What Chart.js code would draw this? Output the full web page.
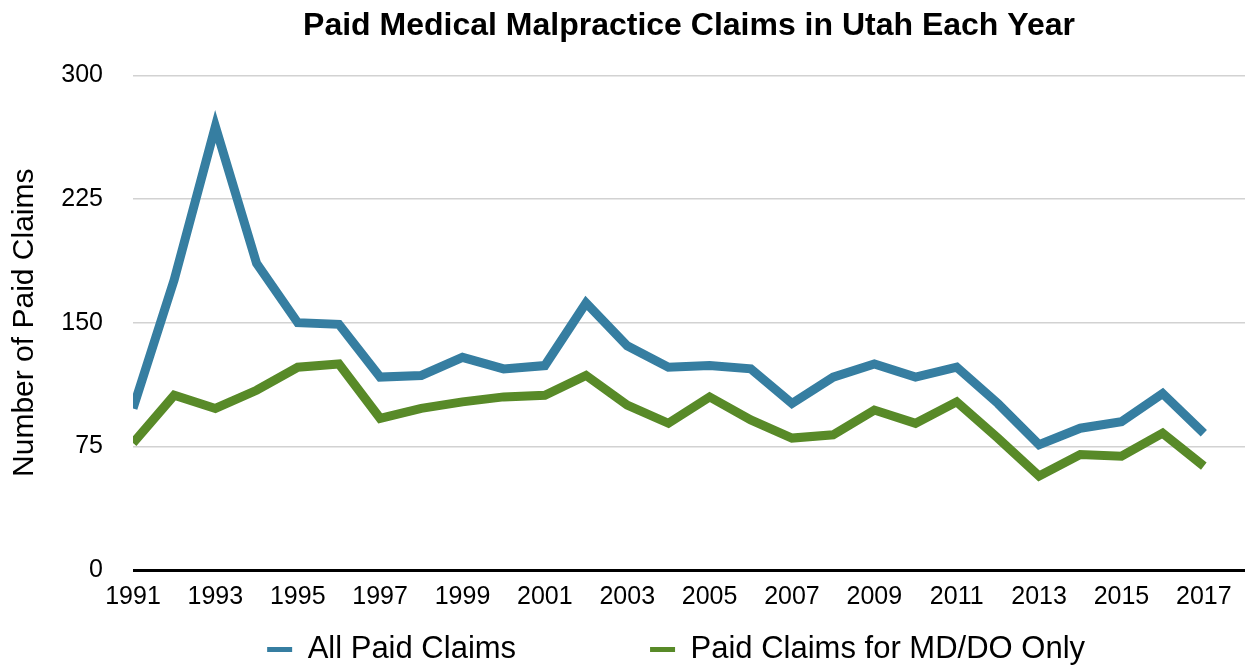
<!DOCTYPE html>
<html>
<head>
<meta charset="utf-8">
<script src="https://cdn.jsdelivr.net/npm/chart.js@4/dist/chart.umd.min.js"></script>
<style>
  html, body { margin: 0; padding: 0; background: #ffffff; }
  #wrap { width: 1250px; height: 666px; position: relative; }
</style>
</head>
<body>
<div id="wrap"><canvas id="c" width="1250" height="666"></canvas></div>
<script>
const years = [1991,1992,1993,1994,1995,1996,1997,1998,1999,2000,2001,2002,2003,2004,2005,2006,2007,2008,2009,2010,2011,2012,2013,2014,2015,2016,2017];
const allPaidClaims = [98,176,269,186,150,149,117,118,129,122,124,162,136,123,124,122,101,117,125,117,123,101,76,86,90,107,83];
const mdDoClaims = [77,106,98,109,123,125,92,98,102,105,106,118,100,89,105,91,80,82,97,89,102,80,57,70,69,83,63];
const xTickYears = [1991,1993,1995,1997,1999,2001,2003,2005,2007,2009,2011,2013,2015,2017];
const yTickValues = [0,75,150,225,300];
const seriesNames = ['All Paid Claims', 'Paid Claims for MD/DO Only'];
const legendPad = ['             ', '   '];

const FONT = '"Liberation Sans", Arial, Helvetica, sans-serif';
const BLUE = '#367EA1';
const GREEN = '#588A28';

const toPoints = (vals) => years.map((yr, i) => ({ x: yr, y: vals[i] }));

new Chart(document.getElementById('c'), {
  type: 'line',
  data: {
    datasets: [
      { label: seriesNames[0], data: toPoints(allPaidClaims), borderColor: BLUE, backgroundColor: BLUE,
        borderWidth: 9, pointRadius: 0, tension: 0, borderJoinStyle: 'miter', borderCapStyle: 'butt', fill: false },
      { label: seriesNames[1], data: toPoints(mdDoClaims), borderColor: GREEN, backgroundColor: GREEN,
        borderWidth: 9, pointRadius: 0, tension: 0, borderJoinStyle: 'miter', borderCapStyle: 'butt', fill: false }
    ]
  },
  options: {
    responsive: false,
    animation: false,
    devicePixelRatio: 1,
    layout: { padding: { left: 0, right: 5, top: 0, bottom: 0 } },
    plugins: {
      title: {
        display: true,
        fullSize: false,
        text: 'Paid Medical Malpractice Claims in Utah Each Year',
        color: '#000',
        font: { family: FONT, size: 32, weight: 'bold' },
        padding: { top: 7, bottom: 30 }
      },
      legend: {
        display: true,
        position: 'bottom',
        fullSize: false,
        maxHeight: 54,
        labels: {
          color: '#000',
          font: { family: FONT, size: 31 },
          boxWidth: 25,
          boxHeight: 5,
          padding: 22,
          generateLabels: (chart) => {
            const items = Chart.defaults.plugins.legend.labels.generateLabels(chart);
            items.forEach((it, i) => {
              it.lineWidth = 0;
              it.strokeStyle = 'rgba(0,0,0,0)';
              it.text = it.text + legendPad[i];
            });
            return items;
          }
        }
      },
      tooltip: { enabled: false }
    },
    scales: {
      x: {
        type: 'linear',
        min: 1991,
        max: 2018,
        afterBuildTicks: (scale) => { scale.ticks = xTickYears.map(v => ({ value: v })); },
        afterFit: (scale) => { scale.height = 42; },
        grid: { display: false },
        border: { display: false },
        ticks: {
          color: '#000',
          font: { family: FONT, size: 25 },
          padding: 4,
          maxRotation: 0,
          autoSkip: false,
          callback: (v) => String(v)
        }
      },
      y: {
        min: 0,
        max: 300,
        afterBuildTicks: (scale) => { scale.ticks = yTickValues.map(v => ({ value: v })); },
        afterFit: (scale) => { scale.width = 133; },
        border: { display: false },
        grid: {
          drawTicks: false,
          color: (ctx) => (ctx.tick && ctx.tick.value === 0) ? '#000000' : '#d2d2d2',
          lineWidth: (ctx) => (ctx.tick && ctx.tick.value === 0) ? 3 : 1.5
        },
        ticks: {
          color: '#000',
          font: { family: FONT, size: 25 },
          padding: 30,
          callback: (v) => String(v)
        },
        title: {
          display: true,
          text: 'Number of Paid Claims',
          color: '#000',
          font: { family: FONT, size: 30 },
          padding: { top: 7, bottom: 0 }
        }
      }
    }
  }
});
</script>
</body>
</html>
